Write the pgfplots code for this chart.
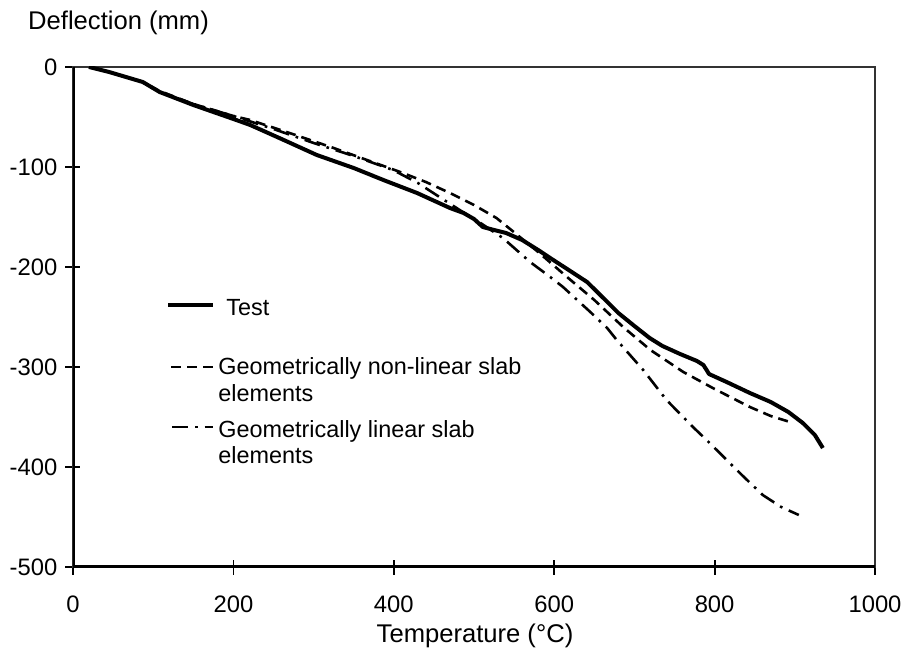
\documentclass[border=0pt]{standalone}
\usepackage{pgfplots}
\pgfplotsset{compat=1.18}
\usepackage{fontspec}
\setmainfont{Liberation Sans}
\begin{document}
\fontsize{11.7}{14}\selectfont
\begin{tikzpicture}[font=\fontsize{11.7}{14}\selectfont]
\path[use as bounding box] (0,0) rectangle (451.5pt,327pt);
\begin{axis}[
  at={(36.5pt,43.5pt)}, anchor=south west,
  width=401pt, height=250pt, scale only axis,
  xmin=0, xmax=1000, ymin=-500, ymax=0,
  xtick={0,200,...,1000}, ytick={-500,-400,...,0},
  xtick pos=left, ytick pos=left,
  tick align=center, major tick length=7.5pt,
  every tick/.style={black, line width=0.9pt},
  axis line style={line width=1pt, black!80},
  /pgf/number format/assume math mode=true,
  /pgf/number format/1000 sep={},
  yticklabel style={xshift=0pt, font=\fontsize{11.9}{14}\selectfont},
  xticklabel style={yshift=-6.5pt, font=\fontsize{11.9}{14}\selectfont},
]
% Test
\addplot[black, line width=2pt, line join=round] coordinates {
(20,0)(45,-5)(87,-15)(108,-25)(150,-38)(200,-52)(221,-58)(260,-72)(304,-88)(350,-101)(387,-113)(429,-126)(470,-141)(487,-146)(500,-152)(511,-160)(525,-163)(540,-166)(560,-173)(580,-183)(595,-191)(620,-204)(641,-215)(660,-230)(680,-246)(700,-259)(719,-271)(735,-279)(757,-287)(778,-294)(786,-298)(790,-303)(793,-307)(815,-315)(844,-326)(870,-335)(892,-345)(910,-356)(925,-368)(935,-381)
};
% Geometrically non-linear
\addplot[black, line width=1.3pt, dash pattern=on 5pt off 3pt] coordinates {
(20,0)(45,-5)(87,-15)(108,-24)(150,-37)(200,-49)(221,-53)(270,-66)(325,-81)(370,-94)(408,-105)(440,-115)(470,-126)(500,-138)(528,-151)(545,-162)(580,-185)(616,-210)(650,-233)(686,-260)(720,-283)(761,-305)(800,-322)(844,-340)(870,-349)(894,-355)
};
% Geometrically linear
\addplot[black, line width=1.3pt, dash pattern=on 8pt off 3.5pt on 1.3pt off 3.5pt] coordinates {
(20,0)(45,-5)(87,-15)(108,-25)(150,-37)(200,-49)(250,-62)(300,-76)(350,-89)(399,-103)(430,-116)(457,-130)(486,-145)(510,-157)(536,-171)(570,-195)(595,-210)(611,-220)(645,-245)(666,-261)(678,-273)(711,-303)(740,-333)(773,-360)(790,-373)(834,-408)(860,-428)(883,-440)(905,-448)
};
\draw[black, line width=1.6pt] (rel axis cs:0,1) -- (rel axis cs:0,0) -- (rel axis cs:1,0);
\end{axis}
\node[anchor=base west, font=\fontsize{12.8}{15}\selectfont] at (10pt,312pt) {Deflection (mm)};
\node[anchor=base, font=\fontsize{12.8}{15}\selectfont] at (237.5pt,6pt) {Temperature (°C)};
% legend
\draw[black, line width=2pt] (84pt,174.5pt) -- (106.5pt,174.5pt);
\node[anchor=base west, inner sep=0pt] at (113pt,169.5pt) {Test};
\draw[black, line width=1.3pt, dash pattern=on 5pt off 3pt] (85.5pt,143.5pt) -- (106.5pt,143.5pt);
\node[anchor=base west, inner sep=0pt] at (109pt,140pt) {Geometrically non-linear slab};
\node[anchor=base west, inner sep=0pt] at (109pt,126.5pt) {elements};
\draw[black, line width=1.3pt, dash pattern=on 8pt off 3.5pt on 1.3pt off 3.5pt] (86pt,113.5pt) -- (106.5pt,113.5pt);
\node[anchor=base west, inner sep=0pt] at (109pt,108.5pt) {Geometrically linear slab};
\node[anchor=base west, inner sep=0pt] at (109pt,95.5pt) {elements};
\end{tikzpicture}
\end{document}
